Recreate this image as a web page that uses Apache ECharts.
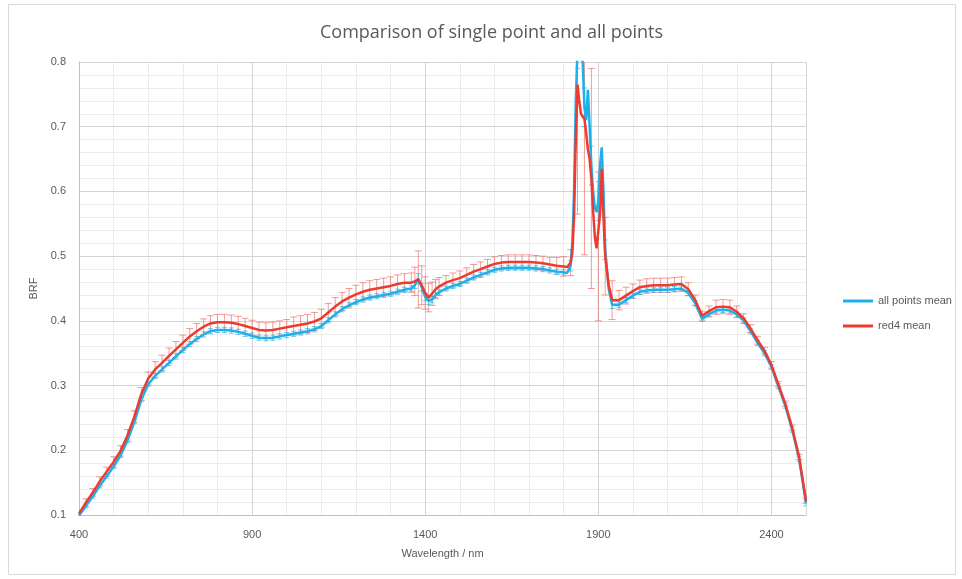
<!DOCTYPE html>
<html>
<head>
<meta charset="utf-8">
<script src="https://cdn.jsdelivr.net/npm/echarts@6/dist/echarts.min.js"></script>
<style>html,body{margin:0;padding:0;background:#fff}#c{width:962px;height:579px}</style>
</head>
<body>
<div id="c"></div>
<script>
// Wavelength (nm)
const wavelengths = [
  400,420,440,460,480,500,520,540,560,580,600,620,640,660,680,700,720,740,760,780,800,
  820,840,860,880,900,920,940,960,980,1000,1020,1040,1060,1080,1100,1120,1140,1160,1180,
  1200,1220,1240,1260,1280,1300,1320,1340,
  1360,1370,1380,1390,1400,1410,1420,1430,1440,
  1460,1480,1500,1520,1540,1560,1580,1600,1620,1640,1660,1680,1700,1720,1740,1760,1780,1800,
  1810,1820,1825,1830,1835,1840,1845,1850,1855,1860,1865,1870,1875,1880,1885,1890,1895,1900,
  1905,1910,1915,1920,1930,1940,
  1960,1980,2000,2020,2040,2060,2080,2100,2120,2140,2160,2180,2200,2220,2240,2260,2280,2300,
  2320,2340,2360,2380,2400,2420,2440,2460,2480,2500
];
const red4Mean = [
  .102,.119,.135,.152,.167,.182,.199,.223,.252,.287,.311,.325,.335,.346,.356,.366,.376,.384,.391,.396,.398,
  .398,.397,.395,.392,.389,.386,.385,.386,.388,.390,.392,.394,.396,.399,.404,.413,.422,.430,.436,
  .441,.445,.448,.450,.452,.454,.457,.459,
  .459,.461,.464,.455,.443,.436,.442,.449,.453,
  .459,.463,.466,.471,.476,.480,.484,.488,.490,.491,.491,.491,.491,.490,.489,.487,.485,.484,
  .483,.490,.505,.560,.680,.765,.740,.720,.722,.712,.690,.665,.650,.620,.570,.530,.512,.515,
  .565,.635,.560,.500,.455,.432,
  .432,.439,.446,.452,.454,.455,.455,.455,.456,.457,.449,.432,.408,.415,.421,.422,.421,.414,
  .404,.388,.370,.354,.332,.302,.272,.235,.190,.122
];
const allPointsMean = [
  .099,.114,.129,.145,.160,.175,.192,.215,.244,.278,.302,.315,.325,.335,.345,.355,.364,.372,.379,.384,.386,
  .386,.385,.383,.380,.377,.374,.373,.374,.376,.378,.380,.382,.384,.387,.392,.401,.410,.418,.424,
  .429,.433,.436,.438,.440,.442,.445,.448,
  .450,.455,.465,.452,.437,.431,.433,.440,.444,
  .450,.454,.457,.462,.467,.471,.475,.479,.481,.482,.482,.482,.482,.481,.480,.478,.476,.475,
  .474,.485,.520,.600,.740,.820,.830,.810,.800,.730,.710,.757,.700,.640,.600,.575,.568,.585,
  .640,.668,.600,.510,.450,.425,
  .425,.432,.439,.445,.447,.448,.448,.448,.449,.450,.443,.427,.403,.410,.416,.417,.416,.410,
  .400,.384,.366,.350,.329,.299,.269,.232,.187,.118
];
const red4Err = [
  .005,.006,.006,.007,.007,.008,.008,.009,.009,.010,.010,.012,.012,.012,.012,.012,.012,.012,.012,.012,.012,
  .012,.012,.012,.012,.012,.012,.012,.012,.012,.012,.014,.014,.014,.014,.014,.014,.014,.014,.014,
  .014,.014,.014,.014,.014,.014,.014,.014,
  .015,.022,.044,.030,.025,.022,.018,.015,.014,
  .011,.011,.011,.011,.011,.011,.011,.011,.011,.011,.011,.011,.011,.011,.011,.011,.013,.015,
  null,.020,null,null,null,.200,null,null,null,.210,null,null,null,.170,null,null,null,.115,
  null,null,null,.060,null,.030,
  .015,.013,.011,.011,.011,.011,.011,.011,.011,.011,.010,.008,.007,.008,.011,.011,.011,.009,
  .007,.006,.006,.005,.005,.004,.004,.004,.004,.004
];
const allPointsErr = [
  .003,.003,.003,.003,.003,.003,.003,.003,.003,.003,.003,.004,.004,.004,.004,.004,.004,.004,.004,.004,.004,
  .004,.004,.004,.004,.004,.004,.004,.004,.004,.004,.004,.004,.004,.004,.004,.004,.004,.004,.004,
  .004,.004,.004,.004,.004,.004,.004,.004,
  .004,.005,.008,.006,.006,.006,.005,.004,.004,
  .004,.004,.004,.004,.004,.004,.004,.004,.004,.004,.004,.004,.004,.004,.004,.004,.004,.004,
  null,.008,null,null,null,.030,null,null,null,.030,null,null,null,.030,null,null,null,.030,
  null,null,null,.015,null,.006,
  .004,.004,.004,.004,.004,.004,.004,.004,.004,.004,.004,.004,.004,.004,.004,.004,.004,.004,
  .004,.004,.004,.004,.004,.004,.004,.004,.004,.004
];
const xTicks = [400, 900, 1400, 1900, 2400];
const yTicks = [0.1, 0.2, 0.3, 0.4, 0.5, 0.6, 0.7, 0.8];

const BLUE = '#1eb0ea';
const RED = '#ec3b2f';
const TXT = '#595959';
const FONT = 'Liberation Sans';

function errData(means, errs) {
  return wavelengths.map((w, i) => [w, means[i], errs[i]]).filter(d => d[2] != null);
}
function errRenderer(color, half) {
  return function (params, api) {
    const x = api.value(0), y = api.value(1), e = api.value(2);
    const t = api.coord([x, y + e]);
    const b = api.coord([x, y - e]);
    const st = { stroke: color, lineWidth: 1 };
    return {
      type: 'group',
      children: [
        { type: 'line', shape: { x1: t[0], y1: t[1], x2: b[0], y2: b[1] }, style: st },
        { type: 'line', shape: { x1: t[0] - half, y1: t[1], x2: t[0] + half, y2: t[1] }, style: st },
        { type: 'line', shape: { x1: b[0] - half, y1: b[1], x2: b[0] + half, y2: b[1] }, style: st }
      ]
    };
  };
}

const chart = echarts.init(document.getElementById('c'), null, { renderer: 'canvas' });
chart.setOption({
  animation: false,
  backgroundColor: '#fff',
  textStyle: { fontFamily: FONT },
  title: {
    text: 'Comparison of single point and all points',
    left: 320, top: 24, padding: 0,
    textStyle: { color: TXT, fontSize: 18, fontWeight: 'normal', fontFamily: 'Open Sans' }
  },
  graphic: [{
    type: 'rect', shape: { x: 8.5, y: 4.5, width: 947, height: 570 },
    style: { fill: 'none', stroke: '#d9d9d9', lineWidth: 1 }, silent: true, z: -1
  }],
  legend: {
    orient: 'vertical', left: 843, top: 294, padding: 0,
    data: ['all points mean', 'red4 mean'],
    icon: 'rect', itemWidth: 30, itemHeight: 3, itemGap: 11,
    textStyle: { color: TXT, fontSize: 11, lineHeight: 14, fontFamily: FONT }
  },
  grid: { left: 79, right: 156, top: 62, bottom: 64, containLabel: false },
  xAxis: [{
    type: 'value', min: 400, max: 2500, interval: 500,
    name: 'Wavelength / nm', nameLocation: 'middle', nameGap: 33,
    nameTextStyle: { color: TXT, fontSize: 11 },
    axisLine: { show: true, lineStyle: { color: '#bfbfbf' } },
    axisTick: { show: false },
    axisLabel: { color: TXT, fontSize: 11, margin: 14, showMaxLabel: false, formatter: v => String(v) },
    splitLine: { show: true, lineStyle: { color: '#d4d4d4' } }
  }, {
    type: 'value', min: 400, max: 2500, interval: 100, position: 'bottom',
    axisLine: { show: false }, axisTick: { show: false }, axisLabel: { show: false },
    splitLine: { show: true, lineStyle: { color: '#ececec' } }, z: -2
  }],
  yAxis: [{
    type: 'value', min: 0.1, max: 0.8, interval: 0.1,
    name: 'BRF', nameLocation: 'middle', nameGap: 38,
    nameTextStyle: { color: TXT, fontSize: 11 },
    axisLine: { show: true, lineStyle: { color: '#bfbfbf' } },
    axisTick: { show: false },
    axisLabel: { color: TXT, fontSize: 11, margin: 13, formatter: v => String(+v.toFixed(1)) },
    splitLine: { show: true, lineStyle: { color: '#d4d4d4' } }
  }, {
    type: 'value', min: 0.1, max: 0.8, interval: 0.02, position: 'left',
    axisLine: { show: false }, axisTick: { show: false }, axisLabel: { show: false },
    splitLine: { show: true, lineStyle: { color: '#ececec' } }, z: -2
  }],
  series: [
    {
      name: 'red4 err', type: 'custom', xAxisIndex: 0, yAxisIndex: 0, clip: true,
      renderItem: errRenderer('rgba(240,100,90,0.65)', 3.5),
      data: errData(red4Mean, red4Err), encode: { x: 0, y: 1 }, z: 2
    },
    {
      name: 'all err', type: 'custom', xAxisIndex: 0, yAxisIndex: 0, clip: true,
      renderItem: errRenderer('rgba(40,180,235,0.7)', 2.5),
      data: errData(allPointsMean, allPointsErr), encode: { x: 0, y: 1 }, z: 2
    },
    {
      name: 'all points mean', type: 'line', xAxisIndex: 0, yAxisIndex: 0,
      data: wavelengths.map((w, i) => [w, allPointsMean[i]]),
      showSymbol: false, symbol: 'none', clip: true,
      lineStyle: { color: BLUE, width: 2.5 }, itemStyle: { color: BLUE }, z: 3
    },
    {
      name: 'red4 mean', type: 'line', xAxisIndex: 0, yAxisIndex: 0,
      data: wavelengths.map((w, i) => [w, red4Mean[i]]),
      showSymbol: false, symbol: 'none', clip: true,
      lineStyle: { color: RED, width: 2.5 }, itemStyle: { color: RED }, z: 4
    }
  ]
});
</script>
</body>
</html>
